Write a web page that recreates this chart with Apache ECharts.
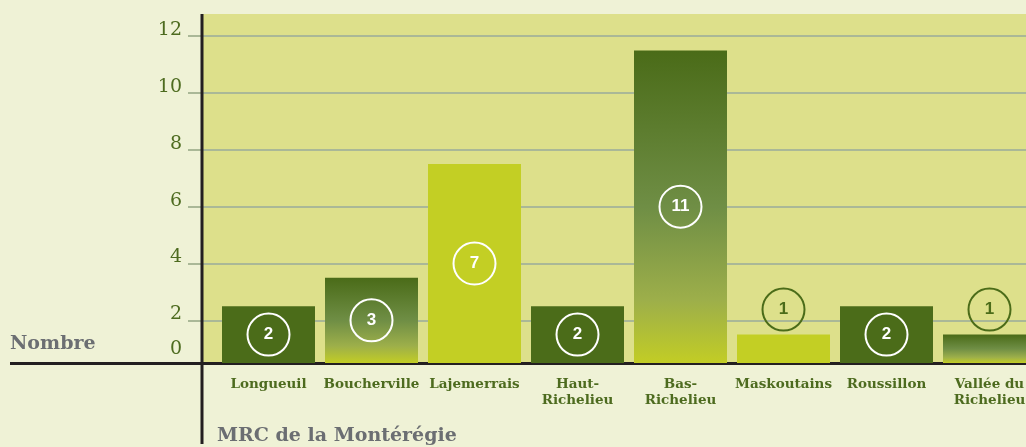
<!DOCTYPE html>
<html>
<head>
<meta charset="utf-8">
<script src="https://cdn.jsdelivr.net/npm/echarts@6/dist/echarts.min.js"></script>
<style>
  html, body { margin: 0; padding: 0; background: #eff2d6; }
  #chart { width: 1026px; height: 447px; }
</style>
</head>
<body>
<div id="chart"></div>
<script>
// MRC de la Montérégie - nombre
const categories = ['Longueuil', 'Boucherville', 'Lajemerrais', 'Haut-\nRichelieu', 'Bas-\nRichelieu', 'Maskoutains', 'Roussillon', 'Vallée du\nRichelieu']
const values = [2, 3, 7, 2, 11, 1, 2, 1]
const yTicks = [0, 2, 4, 6, 8, 10, 12]

const dark = '#4b6c19'
const light = '#c3cf24'
const grad = new echarts.graphic.LinearGradient(0, 0, 0, 1, [
  { offset: 0, color: '#4a6b18' },
  { offset: 0.5, color: '#6f8e45' },
  { offset: 0.8, color: '#9daf4a' },
  { offset: 1, color: '#c2cd25' }
])
const fills = [dark, grad, light] // repeats along the bars

const chart = echarts.init(document.getElementById('chart'))

const seriesData = values.map((v, i) => {
  const outside = v < 2 // circle does not fit in the bar
  return {
    value: v,
    itemStyle: { color: fills[i % 3] },
    label: {
      position: outside ? 'top' : 'inside',
      color: outside ? dark : '#fff',
      borderColor: outside ? dark : '#fff'
    }
  }
})

// 0 sits on the baseline, the other ticks half a unit below their value
const tickPos = yTicks.map(v => Math.max(v, 0.5))

chart.setOption({
  backgroundColor: '#eff2d6',
  animation: false,
  title: [{
    text: 'Nombre',
    left: 5, top: 330,
    textStyle: { fontFamily: 'DejaVu Serif', fontWeight: 'bold', fontSize: 19, color: '#6b6e72' }
  }, {
    text: 'MRC de la Montérégie',
    left: 212, top: 422,
    textStyle: { fontFamily: 'DejaVu Serif', fontWeight: 'bold', fontSize: 19, color: '#6b6e72' }
  }],
  grid: {
    left: 217, right: -15, top: 14, bottom: 84,
    outerBoundsMode: 'none',
    show: true, backgroundColor: '#dde08b', borderWidth: 0
  },
  xAxis: {
    type: 'category',
    data: categories,
    axisLine: { lineStyle: { color: '#231f20', width: 3 } },
    axisTick: { show: false },
    axisLabel: {
      margin: 13, interval: 0, lineHeight: 16,
      fontFamily: 'DejaVu Serif', fontWeight: 'bold', fontSize: 13.5, color: '#4d6b1f'
    }
  },
  yAxis: [{
    // bars
    type: 'value', min: 0, max: 12.28, show: false
  }, {
    // ticks, labels and grid
    type: 'value', min: 0.5, max: 12.78, position: 'left',
    axisLine: { show: false },
    axisTick: {
      show: true, length: 29, customValues: tickPos,
      lineStyle: { color: '#aab897', width: 2 }
    },
    axisLabel: {
      margin: 35,
      customValues: tickPos,
      formatter: v => v < 1 ? '{z|0}' : String(v),
      padding: [0, 0, 12, 0],
      fontFamily: 'DejaVu Serif', fontSize: 19, color: '#4d6b1f',
      rich: { z: { fontFamily: 'DejaVu Serif', fontSize: 19, color: '#4d6b1f', padding: [0, 0, 15, 0] } }
    },
    splitLine: { lineStyle: { color: '#aab897', width: 2 } }
  }],
  graphic: [
    { type: 'rect', z: -1, shape: { x: 203, y: 14, width: 14, height: 349 }, style: { fill: '#dde08b' } },
    { type: 'line', z: 50, shape: { x1: 10, y1: 363.5, x2: 218, y2: 363.5 }, style: { stroke: '#231f20', lineWidth: 3 } },
    { type: 'line', z: 50, shape: { x1: 202, y1: 14, x2: 202, y2: 444 }, style: { stroke: '#231f20', lineWidth: 3 } }
  ],
  series: [{
    type: 'bar',
    yAxisIndex: 0,
    barWidth: 93,
    data: seriesData,
    label: {
      show: true,
      formatter: '{c}',
      fontFamily: 'Liberation Sans', fontWeight: 'bold', fontSize: 17,
      width: 42, height: 42, lineHeight: 42, align: 'center',
      borderWidth: 2, borderRadius: 23, distance: 4
    }
  }]
})
</script>
</body>
</html>
